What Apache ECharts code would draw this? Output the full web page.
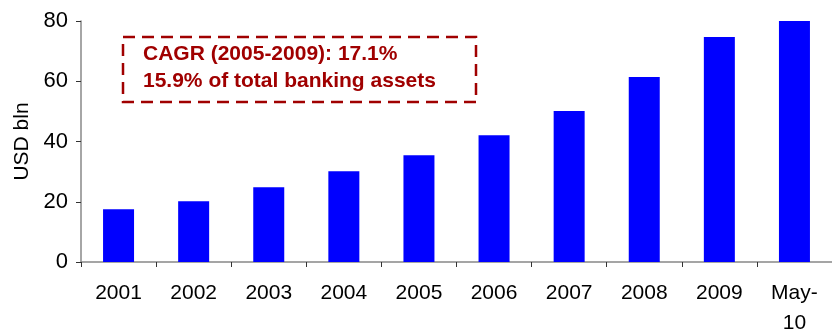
<!DOCTYPE html>
<html>
<head>
<meta charset="utf-8">
<script src="https://cdn.jsdelivr.net/npm/echarts@6/dist/echarts.min.js"></script>
<style>
  html, body { margin: 0; padding: 0; background: #fff; }
  #main { width: 832px; height: 329px; }
</style>
</head>
<body>
<div id="main"></div>
<script>
// data
const categories = ["2001", "2002", "2003", "2004", "2005", "2006", "2007", "2008", "2009", "May-\n10"];
const assets = [17.5, 20.2, 24.8, 30.1, 35.4, 42.1, 50.1, 61.4, 74.7, 80.0];
const yTicks = [0, 20, 40, 60, 80];
const noteLines = ["CAGR (2005-2009): 17.1%", "15.9% of total banking assets"];

const chart = echarts.init(document.getElementById("main"));

const font = "Liberation Sans, Arial, sans-serif";

const option = {
  animation: false,
  textStyle: { fontFamily: font },
  grid: { left: 81, right: 0, top: 21, bottom: 67, containLabel: false, outerBoundsMode: "none" },
  xAxis: {
    type: "category",
    data: categories,
    axisLine: { lineStyle: { color: "#888", width: 1.5 } },
    axisTick: { show: true, length: 5, lineStyle: { color: "#333" } },
    axisLabel: { interval: 0, color: "#000", fontSize: 21, margin: 16, lineHeight: 30, fontFamily: font }
  },
  yAxis: {
    type: "value",
    min: yTicks[0],
    max: yTicks[yTicks.length - 1],
    interval: yTicks[1] - yTicks[0],
    name: "USD bln",
    nameLocation: "middle",
    nameGap: 47,
    nameTextStyle: { fontSize: 21, color: "#000", fontFamily: font },
    axisLine: { show: true, lineStyle: { color: "#888", width: 1.5 } },
    axisTick: { show: true, length: 5, lineStyle: { color: "#333" } },
    axisLabel: { color: "#000", fontSize: 22, margin: 13, fontFamily: font },
    splitLine: { show: false }
  },
  series: [
    {
      type: "bar",
      data: assets,
      barWidth: 31,
      itemStyle: { color: "#0000FF" }
    }
  ],
  graphic: [
    {
      type: "rect",
      shape: { x: 123, y: 37, width: 353, height: 65 },
      style: { fill: "none", stroke: "#A00000", lineWidth: 2.5, lineDash: [12, 7] },
      z: 10
    },
    {
      type: "text",
      x: 143,
      y: 41,
      style: {
        text: noteLines.join("\n"),
        fill: "#A00000",
        font: "bold 21px " + font,
        lineHeight: 27
      },
      z: 10
    }
  ]
};

chart.setOption(option);
</script>
</body>
</html>
